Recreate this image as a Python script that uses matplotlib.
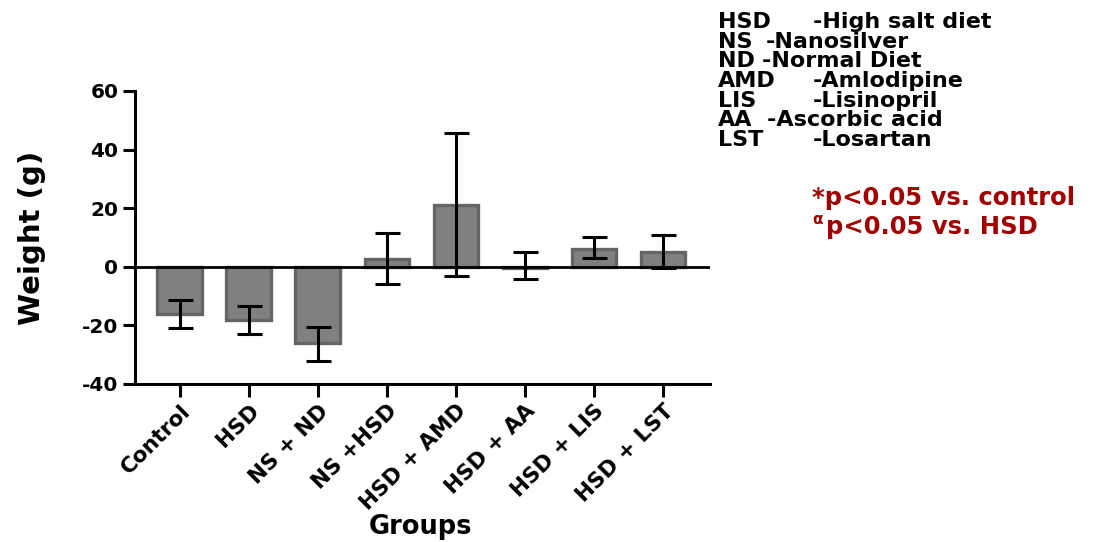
import matplotlib
matplotlib.use("Agg")
import matplotlib.pyplot as plt
import numpy as np

plt.rcParams["font.family"] = ["DejaVu Sans"]
plt.rcParams["font.weight"] = "bold"

# ── Data ──────────────────────────────────────────────────────────────────────
groups = ["Control", "HSD", "NS + ND", "NS +HSD", "HSD + AMD",
          "HSD + AA", "HSD + LIS", "HSD + LST"]
mean_wt = [-16.0, -18.0, -26.0, 2.5, 21.0, -0.5, 6.0, 5.0]
err_low = [-21.0, -23.0, -32.0, -6.0, -3.0, -4.0, 3.0, -0.5]
err_high = [-11.5, -13.5, -20.5, 11.5, 45.5, 5.0, 10.0, 11.0]

abbrev = ["HSD", "NS", "ND", "AMD", "LIS", "AA", "LST"]
meaning = ["-High salt diet", "-Nanosilver", "-Normal Diet", "-Amlodipine",
           "-Lisinopril", "-Ascorbic acid", "-Losartan"]
dash_x = [813, 766, 762, 813, 813, 767, 813]

# ── Figure ────────────────────────────────────────────────────────────────────
W, H = 1099, 542
fig = plt.figure(figsize=(W / 100, H / 100), dpi=100)
ax = fig.add_axes([135 / W, 1 - 384 / H, (710 - 135) / W, (384 - 91) / H])

x = np.arange(len(groups))
mean = np.array(mean_wt)
yerr = np.vstack([mean - np.array(err_low), np.array(err_high) - mean])

ax.bar(x, mean, width=0.65, color="#808080", edgecolor="#656565", linewidth=2.4, zorder=2)
ax.errorbar(x, mean, yerr=yerr, fmt="none", ecolor="black", elinewidth=2.2,
            capsize=9, capthick=2.2, zorder=3)
ax.axhline(0, color="black", linewidth=2.0, zorder=4)

ax.set_xlim(-0.65, 7.68)
ax.set_ylim(-40, 60)
ax.set_yticks([-40, -20, 0, 20, 40, 60])

for side in ["top", "right"]:
    ax.spines[side].set_visible(False)
for side in ["left", "bottom"]:
    ax.spines[side].set_linewidth(2.2)

ax.tick_params(axis="both", width=2.2, length=9, pad=3)
ax.tick_params(axis="y", labelsize=14.5)
ax.tick_params(axis="x", labelsize=15.5)
ax.set_xticks(x)
ax.set_xticklabels(groups, rotation=45, ha="right", rotation_mode="anchor",
                   fontweight="bold")
ax.set_yticklabels(["-40", "-20", "0", "20", "40", "60"], fontweight="bold")

ax.set_ylabel("Weight (g)", fontsize=21, fontweight="bold")
ax.yaxis.set_label_coords(-0.155, 0.5)
fig.text(420 / W, 1 - 527 / H, "Groups", fontsize=18.5, fontweight="bold",
         ha="center", va="center")

# ── Abbreviation legend ───────────────────────────────────────────────────────
for i, (ab, mn, dx) in enumerate(zip(abbrev, meaning, dash_x)):
    yy = 1 - (22 + i * 19.7) / H
    fig.text(718 / W, yy, ab, fontsize=16, fontweight="bold", va="center")
    fig.text(dx / W, yy, mn, fontsize=16, fontweight="bold", va="center")

red = "#a00000"
fig.text(812 / W, 1 - 198 / H, "*p<0.05 vs. control", fontsize=17.5,
         fontweight="bold", color=red, va="center")
fig.text(812 / W, 1 - 219 / H, "α", fontsize=11, fontweight="bold",
         color=red, va="center")
fig.text(826 / W, 1 - 227 / H, "p<0.05 vs. HSD", fontsize=17.5,
         fontweight="bold", color=red, va="center")

fig.savefig("out.png", dpi=100)
